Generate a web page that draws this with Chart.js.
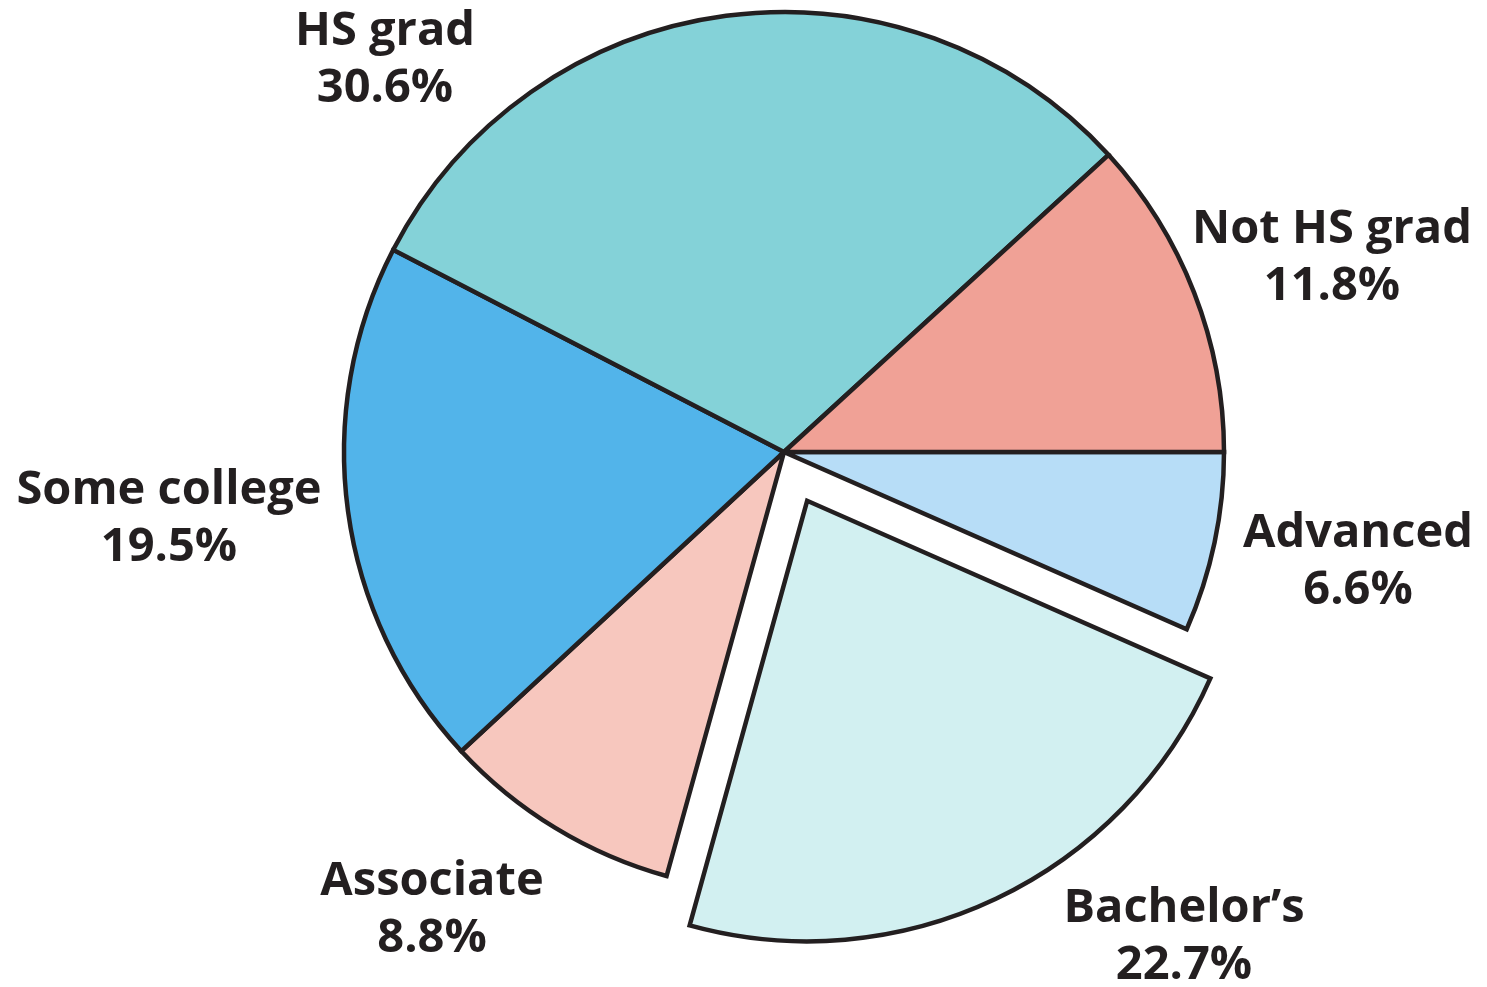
<!DOCTYPE html>
<html>
<head>
<meta charset="utf-8">
<script src="https://cdn.jsdelivr.net/npm/chart.js@4.4.0/dist/chart.umd.min.js"></script>
<style>
    html, body { margin: 0; padding: 0; background: #ffffff; overflow: hidden; }
    #wrap { width: 1487px; height: 987px; }
</style>
</head>
<body>
<div id="wrap"><canvas id="education"></canvas></div>
<script>
// drawn clockwise from 3 o'clock
const categories = ["Advanced", "Bachelor\u2019s", "Associate", "Some college", "HS grad", "Not HS grad"];
const shares = [6.6, 22.7, 8.8, 19.5, 30.6, 11.8];
const sliceColors = ["#b7ddf7", "#d2f0f1", "#f7c7be", "#52b4ea", "#84d2d8", "#f0a196"];
const exploded = [0, 1, 0, 0, 0, 0];

// label anchors relative to the pie centre (first baseline)
const labelSpots = [
    [574, 95],
    [400, 470],
    [-352, 443],
    [-615, 52],
    [-399, -407],
    [548, -209]
];

const sliceLabels = {
    id: 'sliceLabels',
    afterDraw(chart) {
        const ctx = chart.ctx;
        const arcs = chart.getDatasetMeta(0).data;
        ctx.save();
        ctx.fillStyle = "#231f20";
        ctx.textAlign = "center";
        ctx.textBaseline = "alphabetic";
        ctx.font = "bold 47px 'Open Sans'";
        arcs.forEach((arc, i) => {
            const x = arc.x + labelSpots[i][0];
            const y = arc.y + labelSpots[i][1];
            ctx.fillText(categories[i], x, y);
            ctx.fillText(shares[i].toFixed(1) + "%", x, y + 57);
        });
        ctx.restore();
    }
};

const canvas = document.getElementById('education');

let pieChart = new Chart(canvas, {
    type: 'pie',
    data: {
        labels: categories,
        datasets: [{
            data: shares,
            backgroundColor: sliceColors,
            borderColor: "#231f20",
            borderWidth: 4.5,
            borderJoinStyle: "miter",
            offset: exploded.map(e => e * 216)
        }]
    },
    options: {
        responsive: true,
        maintainAspectRatio: false,
        animation: false,
        events: [],
        rotation: 90,
        radius: 440,
        layout: {
            padding: { left: 81, right: 0, top: 0, bottom: 83 }
        },
        plugins: {
            legend: { display: false },
            tooltip: { enabled: false }
        }
    },
    plugins: [sliceLabels]
});
</script>
</body>
</html>
